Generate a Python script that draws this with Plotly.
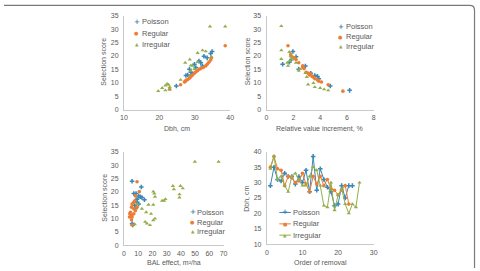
import plotly.graph_objects as go

W, H = 480, 271

# ---------------- data ----------------
# Panel 1: Selection score vs Dbh
p1_poisson_x = [24.8, 27.5, 28.0, 28.5, 29.9, 30.3, 31.2, 31.7, 32.6, 33.5, 34.5, 34.9, 28.9, 29.4, 32.2]
p1_poisson_y = [8.8, 12.7, 12.9, 15.1, 16.9, 15.7, 18.1, 17.5, 19.9, 19.3, 20.9, 21.7, 13.9, 13.3, 16.3]
p1_regular_x = [22.9, 26.0, 27.1, 27.5, 28.0, 28.5, 28.9, 29.4, 29.9, 30.3, 30.8, 31.2, 31.7, 32.4, 33.1, 33.5, 34.0, 34.5, 34.7, 38.6, 27.3, 28.7]
p1_regular_y = [7.6, 9.3, 10.3, 10.9, 11.2, 11.7, 12.4, 12.9, 13.6, 14.1, 14.5, 15.1, 15.3, 15.7, 16.3, 16.9, 17.7, 18.5, 19.3, 23.8, 10.5, 12.1]
p1_irregular_x = [19.7, 20.8, 21.7, 22.2, 22.6, 22.9, 22.9, 21.7, 26.0, 27.3, 28.6, 28.9, 29.4, 29.9, 30.8, 32.2, 33.1, 34.3, 38.6, 30.8, 34.7, 28.9]
p1_irregular_y = [6.9, 8.1, 9.0, 9.6, 9.3, 8.4, 7.6, 7.2, 11.1, 17.5, 18.7, 16.5, 16.3, 15.1, 21.1, 22.1, 21.7, 31.0, 31.0, 17.7, 19.7, 14.5]

# Panel 2: Selection score vs relative value increment
p2_poisson_x = [1.2, 1.7, 1.85, 1.97, 2.2, 2.4, 2.9, 3.3, 3.6, 3.8, 4.75, 6.2, 3.9]
p2_poisson_y = [16.9, 17.7, 18.7, 21.7, 19.7, 15.1, 16.3, 13.6, 12.7, 12.4, 8.8, 7.2, 11.5]
p2_regular_x = [1.6, 1.8, 1.9, 2.2, 2.4, 2.7, 2.8, 2.95, 3.1, 3.3, 3.4, 3.5, 3.6, 3.8, 3.9, 4.1, 4.6, 5.7, 2.1, 2.7, 3.2]
p2_regular_y = [23.8, 20.5, 19.7, 18.7, 17.5, 16.3, 15.3, 13.9, 13.6, 13.3, 12.4, 12.1, 11.5, 11.1, 10.6, 10.3, 9.3, 6.9, 19.3, 15.7, 12.9]
p2_irregular_x = [1.1, 1.1, 1.1, 1.55, 1.6, 1.7, 1.8, 1.9, 2.2, 2.4, 3.0, 3.1, 3.5, 3.6, 4.0, 4.3, 4.6, 2.5, 2.9, 1.75]
p2_irregular_y = [31.1, 22.1, 18.9, 17.5, 16.3, 21.5, 19.9, 18.7, 17.5, 14.6, 12.2, 9.4, 9.9, 8.4, 8.1, 7.6, 7.2, 15.1, 13.6, 18.1]

# Panel 3: Selection score vs BAL effect
p3_poisson_x = [5.7, 12.2, 6.9, 8.5, 10.3, 11.5, 12.6, 14.4, 9.2, 10.3, 8.0, 5.7, 6.2, 9.2, 7.6]
p3_poisson_y = [24.0, 21.8, 19.4, 19.4, 18.5, 18.2, 17.9, 17.1, 16.1, 15.5, 13.7, 8.2, 7.6, 17.3, 14.9]
p3_regular_x = [9.2, 10.8, 8.0, 6.9, 5.7, 5.3, 6.9, 4.6, 4.1, 5.3, 5.7, 5.3, 5.7, 8.0, 9.2, 7.6, 3.9, 6.9]
p3_regular_y = [23.8, 20.1, 18.5, 16.1, 15.5, 14.3, 13.7, 12.4, 11.8, 11.2, 10.6, 9.6, 7.6, 13.0, 14.3, 16.7, 10.6, 11.8]
p3_irregular_x = [49.8, 66.5, 34.4, 35.1, 39.7, 41.3, 39.0, 39.0, 29.1, 26.8, 28.2, 20.6, 21.3, 21.8, 17.2, 20.6, 15.6, 12.6, 14.9, 16.1, 18.3, 20.6, 21.8, 9.2, 7.6, 19.0]
p3_irregular_y = [31.3, 31.3, 22.2, 21.0, 22.2, 21.3, 19.1, 17.9, 17.3, 16.7, 16.7, 20.1, 19.4, 18.2, 15.2, 15.2, 12.4, 13.7, 8.8, 8.2, 7.6, 9.4, 10.0, 15.5, 7.9, 11.8]

# Panel 4: Dbh vs order of removal
p4_poisson_y = [29, 35, 31, 30.5, 33, 32, 32, 29.5, 32, 30, 34, 27, 38.5, 27.5, 34.5, 31, 28.5, 27, 22.5, 23, 29, 25, 29, 29]
p4_regular_y = [35, 38.5, 34.5, 34, 29, 32, 31.5, 30, 30.5, 33, 29.5, 27, 32, 29.5, 32, 29, 31, 28, 27.5, 26, 27.5, 29, 23]
p4_irregular_y = [34.5, 38.5, 31, 32, 29, 27, 32, 33, 31, 29, 29, 32, 35, 34, 29, 22.5, 22, 30, 21, 26, 28, 23, 20, 23, 22, 30]
p4_poisson_x = list(range(1, len(p4_poisson_y) + 1))
p4_regular_x = list(range(1, len(p4_regular_y) + 1))
p4_irregular_x = list(range(1, len(p4_irregular_y) + 1))

series_names = ["Poisson", "Regular", "Irregular"]
colors = {"Poisson": "#3A88B5", "Regular": "#EC7D33", "Irregular": "#93AE4C"}
symbols = {"Poisson": "cross", "Regular": "circle", "Irregular": "triangle-up"}
sizes = {"Poisson": 3.8, "Regular": 3.6, "Irregular": 3.8}

FONT = "Liberation Sans, Arial, sans-serif"
TXT = "#595959"
AXC = "#C9C9C9"

fig = go.Figure()

def add(xs, ys, name, ax, mode="markers"):
    fig.add_trace(go.Scatter(
        x=xs, y=ys, name=name, mode=mode, showlegend=False,
        xaxis="x" + ("" if ax == 1 else str(ax)),
        yaxis="y" + ("" if ax == 1 else str(ax)),
        marker=dict(symbol=symbols[name], size=sizes[name], color=colors[name],
                    line=dict(width=0)),
        line=dict(color=colors[name], width=1),
    ))

add(p1_poisson_x, p1_poisson_y, "Poisson", 1)
add(p1_regular_x, p1_regular_y, "Regular", 1)
add(p1_irregular_x, p1_irregular_y, "Irregular", 1)
add(p2_poisson_x, p2_poisson_y, "Poisson", 2)
add(p2_regular_x, p2_regular_y, "Regular", 2)
add(p2_irregular_x, p2_irregular_y, "Irregular", 2)
add(p3_poisson_x, p3_poisson_y, "Poisson", 3)
add(p3_regular_x, p3_regular_y, "Regular", 3)
add(p3_irregular_x, p3_irregular_y, "Irregular", 3)
add(p4_poisson_x, p4_poisson_y, "Poisson", 4, "lines+markers")
add(p4_regular_x, p4_regular_y, "Regular", 4, "lines+markers")
add(p4_irregular_x, p4_irregular_y, "Irregular", 4, "lines+markers")

def px(x):
    return x / W

def py(y):
    return 1 - y / H

def xax(d0, d1, rng, dtick, anchor):
    return dict(domain=[px(d0), px(d1)], range=rng, dtick=dtick, tick0=rng[0],
                showgrid=False, zeroline=False, showline=True, linecolor=AXC,
                linewidth=1, ticks="", tickfont=dict(size=7, color=TXT, family=FONT),
                anchor=anchor, fixedrange=True, ticklabelstandoff=1)

def yax(d0, d1, rng, dtick, anchor):
    return dict(domain=[py(d1), py(d0)], range=rng, dtick=dtick, tick0=rng[0],
                showgrid=False, zeroline=False, showline=True, linecolor=AXC,
                linewidth=1, ticks="", tickfont=dict(size=7, color=TXT, family=FONT),
                anchor=anchor, fixedrange=True, ticklabelstandoff=3)

layout = dict(
    width=W, height=H, margin=dict(l=0, r=0, t=0, b=0),
    paper_bgcolor="white", plot_bgcolor="white",
    font=dict(family=FONT, color=TXT, size=7),
    xaxis=xax(122, 230, [10, 40], 10, "y"),
    yaxis=yax(12, 108.5, [0, 35], 5, "x"),
    xaxis2=xax(267, 376, [0, 8], 2, "y2"),
    yaxis2=yax(12, 108.5, [0, 35], 5, "x2"),
    xaxis3=xax(122, 223.3, [0, 70], 10, "y3"),
    yaxis3=yax(151.7, 247.8, [0, 35], 5, "x3"),
    xaxis4=xax(267.3, 376, [0, 30], 10, "y4"),
    yaxis4=yax(151.7, 246.5, [10, 40], 5, "x4"),
    showlegend=False,
)
fig.update_layout(**layout)

ann = []
def label(x, y, text, angle=0, xanchor="center", size=7, color=TXT):
    ann.append(dict(x=px(x), y=py(y), xref="paper", yref="paper", text=text,
                    showarrow=False, textangle=angle, xanchor=xanchor, yanchor="middle",
                    font=dict(size=size, color=color, family=FONT)))

# axis titles
label(176, 128, "Dbh, cm")
label(321, 127.5, "Relative value increment, %")
label(172.5, 265.5, "BAL effect, m²/ha")
label(321.5, 265.5, "Order of removal")
label(101, 59, "Selection score", angle=-90)
label(248, 59, "Selection score", angle=-90)
label(102.5, 199, "Selection score", angle=-90)
label(247, 200, "Dbh, cm", angle=-90)

glyph = {"Poisson": ("<b>+</b>", 7), "Regular": ("●", 5), "Irregular": ("▲", 4.5)}

def legend(mx, tx, ys, line=None):
    for name, y in zip(series_names, ys):
        g, s = glyph[name]
        if line:
            fig.add_shape(type="line", xref="paper", yref="paper",
                          x0=px(line[0]), x1=px(line[1]), y0=py(y), y1=py(y),
                          line=dict(color=colors[name], width=1))
        ann.append(dict(x=px(mx), y=py(y), xref="paper", yref="paper", text=g,
                        showarrow=False, xanchor="center", yanchor="middle",
                        font=dict(size=s, color=colors[name], family="DejaVu Sans")))
        label(tx, y, name, xanchor="left", size=7.5)

legend(135, 138.5, [18.3, 30, 41.7])
legend(342.7, 346, [23.3, 33.7, 43.7])
legend(191.7, 194.5, [214, 224, 234])
legend(285.8, 291.5, [214, 225.7, 237.3], line=(280, 291.7))

fig.update_layout(annotations=ann)

# outer frame (top edge with rounded top-right corner, right edge)
fig.add_shape(type="path", xref="paper", yref="paper",
              path=f"M 0,{py(1.5)} L {px(473.5)},{py(1.5)} Q {px(478.5)},{py(1.5)} {px(478.5)},{py(6.5)} L {px(478.5)},0",
              line=dict(color="#7A7A7A", width=1.2))

fig.write_html("out.html")
